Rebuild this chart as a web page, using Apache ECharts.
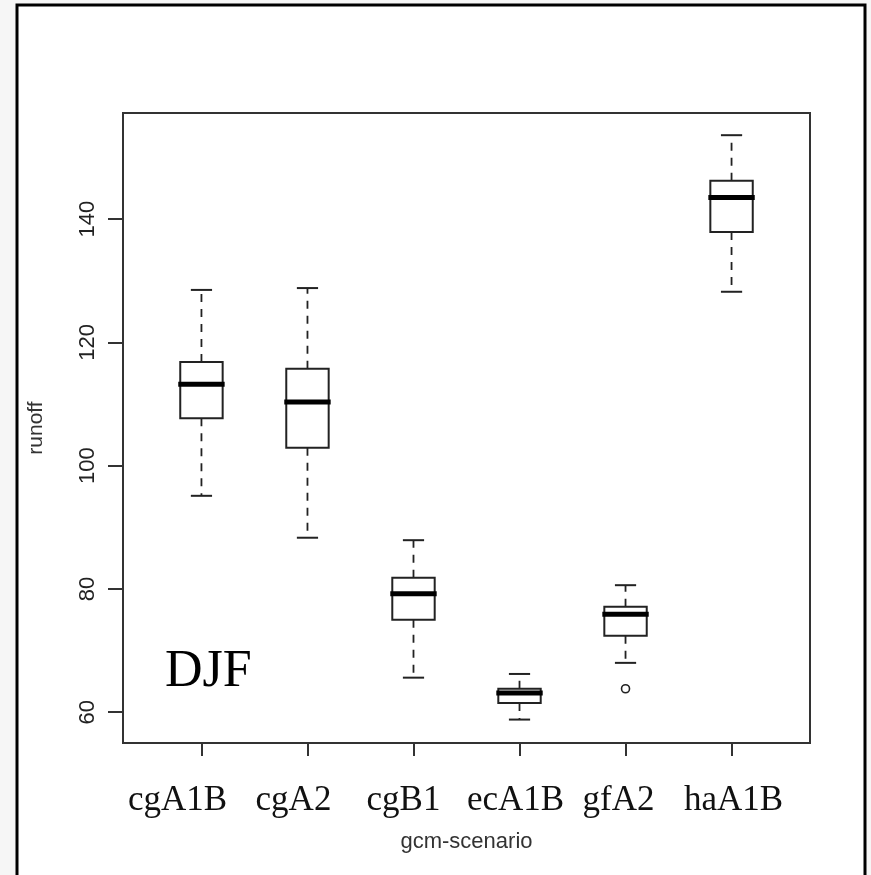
<!DOCTYPE html>
<html>
<head>
<meta charset="utf-8">
<script src="https://cdn.jsdelivr.net/npm/echarts@6/dist/echarts.min.js"></script>
<style>
html,body{margin:0;padding:0;background:#f6f6f6;}
#chart{width:871px;height:875px;}
</style>
</head>
<body>
<div id="chart"></div>
<script>
// ---- data ----
var categories = ['cgA1B', 'cgA2', 'cgB1', 'ecA1B', 'gfA2', 'haA1B'];
var whiskerLow  = [95.1, 88.3, 65.6, 58.8, 68.0, 128.2];
var q1          = [107.7, 102.9, 75.0, 61.5, 72.4, 137.9];
var median      = [113.2, 110.3, 79.2, 63.1, 75.9, 143.5];
var q3          = [116.8, 115.7, 81.8, 63.8, 77.1, 146.2];
var whiskerHigh = [128.5, 128.8, 87.9, 66.2, 80.6, 153.6];
var outliers    = [[5, 63.8]];           // [category position, value]
var yTicks      = [60, 80, 100, 120, 140];
var xTicks      = [1, 2, 3, 4, 5, 6];
var yName = 'runoff';
var xName = 'gcm-scenario';
var panelLabel = 'DJF';

// ---- layout (label placement in px relative to its tick, as in the reference) ----
var labelShift = [-24, -14, -10, -4, -7, 2];

// ---- build ----
var boxData = categories.map(function (c, i) {
  return [i + 1, whiskerLow[i], q1[i], median[i], q3[i], whiskerHigh[i]];
});

var labelRich = {};
labelShift.forEach(function (d, i) {
  labelRich['c' + i] = {
    fontFamily: 'Liberation Serif', fontSize: 35, color: '#111',
    padding: d < 0 ? [0, -2 * d, 0, 0] : [0, 0, 0, 2 * d]
  };
});

function renderBox(params, api) {
  var x = api.value(0);
  var lo = api.coord([x, api.value(1)]);
  var b1 = api.coord([x, api.value(2)]);
  var md = api.coord([x, api.value(3)]);
  var b3 = api.coord([x, api.value(4)]);
  var hi = api.coord([x, api.value(5)]);
  var halfBox = api.size([0.2, 0])[0];
  var halfCap = api.size([0.1, 0])[0];
  var cx = lo[0];
  var lineCol = '#222';
  return {
    type: 'group',
    children: [
      { type: 'line', shape: { x1: cx, y1: b3[1], x2: cx, y2: hi[1] },
        style: { stroke: lineCol, lineWidth: 1.8, lineDash: [8, 7] } },
      { type: 'line', shape: { x1: cx, y1: b1[1], x2: cx, y2: lo[1] },
        style: { stroke: lineCol, lineWidth: 1.8, lineDash: [8, 7] } },
      { type: 'line', shape: { x1: cx - halfCap, y1: hi[1], x2: cx + halfCap, y2: hi[1] },
        style: { stroke: lineCol, lineWidth: 2 } },
      { type: 'line', shape: { x1: cx - halfCap, y1: lo[1], x2: cx + halfCap, y2: lo[1] },
        style: { stroke: lineCol, lineWidth: 2 } },
      { type: 'rect', shape: { x: cx - halfBox, y: b3[1], width: 2 * halfBox, height: b1[1] - b3[1] },
        style: { fill: '#fff', stroke: lineCol, lineWidth: 2 } },
      { type: 'line', shape: { x1: cx - halfBox - 2, y1: md[1], x2: cx + halfBox + 2, y2: md[1] },
        style: { stroke: '#000', lineWidth: 5 } }
    ]
  };
}

var chart = echarts.init(document.getElementById('chart'), null, { renderer: 'canvas' });
chart.setOption({
  backgroundColor: '#f6f6f6',
  animation: false,
  graphic: [
    { type: 'rect', z: -100, zlevel: 0, silent: true,
      shape: { x: 17, y: 5, width: 848, height: 880 },
      style: { fill: '#fff', stroke: '#000', lineWidth: 3 } },
    { type: 'text', z: 100, left: 165, top: 646,
      style: { text: panelLabel, fontFamily: 'Liberation Serif', fontSize: 52, fill: '#000' } }
  ],
  grid: {
    left: 123, top: 113, right: 61, bottom: 132,
    show: true, borderColor: '#333', borderWidth: 2, backgroundColor: 'transparent'
  },
  xAxis: {
    type: 'value', min: 0.26, max: 6.74,
    name: xName, nameLocation: 'middle', nameGap: 88,
    nameTextStyle: { fontFamily: 'Liberation Sans', fontSize: 22, color: '#333' },
    axisLine: { show: true, lineStyle: { color: '#333', width: 2 } },
    axisTick: { show: true, length: 13, inside: false, customValues: xTicks, lineStyle: { color: '#333', width: 2 } },
    axisLabel: { customValues: xTicks, margin: 40, fontFamily: 'Liberation Serif', fontSize: 35, color: '#111',
      rich: labelRich,
      formatter: function (v) {
        var i = Math.round(v) - 1;
        return categories[i] ? '{c' + i + '|' + categories[i] + '}' : '';
      } },
    splitLine: { show: false }
  },
  yAxis: {
    type: 'value', min: 55.0, max: 157.2,
    name: yName, nameLocation: 'middle', nameGap: 76,
    nameTextStyle: { fontFamily: 'Liberation Sans', fontSize: 21, color: '#333' },
    axisLine: { show: true, lineStyle: { color: '#333', width: 2 } },
    axisTick: { show: true, length: 15, inside: false, customValues: yTicks, lineStyle: { color: '#333', width: 2 } },
    axisLabel: { customValues: yTicks, rotate: 90, margin: 24, fontFamily: 'Liberation Sans', fontSize: 22, color: '#222' },
    splitLine: { show: false }
  },
  series: [
    { type: 'custom', renderItem: renderBox, data: boxData,
      encode: { x: 0, y: [1, 2, 3, 4, 5] }, clip: false, z: 5 },
    { type: 'scatter', data: outliers, symbol: 'circle', symbolSize: 8,
      itemStyle: { color: '#fff', borderColor: '#222', borderWidth: 1.6, opacity: 1 }, z: 6 }
  ]
});
</script>
</body>
</html>
